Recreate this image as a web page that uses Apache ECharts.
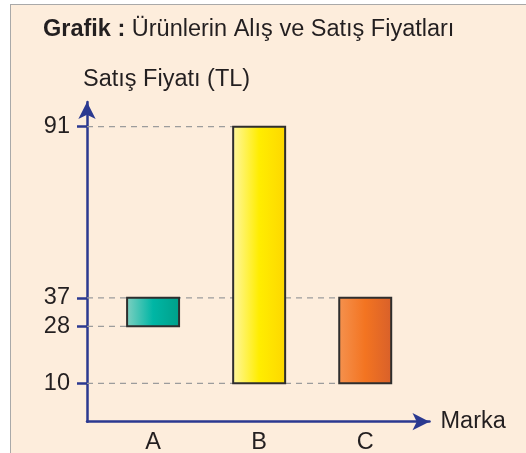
<!DOCTYPE html>
<html>
<head>
<meta charset="utf-8">
<script src="https://cdn.jsdelivr.net/npm/echarts@6/dist/echarts.min.js"></script>
<style>
  html, body { margin: 0; padding: 0; background: #ffffff; }
  #bg { position: absolute; left: 10px; top: 4px; width: 530px; height: 460px;
        background: #fdeddc; border-left: 1.5px solid #a9a9a9; border-top: 1.5px solid #a9a9a9; }
  #chart { position: absolute; left: 0; top: 0; width: 526px; height: 453px; }
</style>
</head>
<body>
<div id="bg"></div>
<div id="chart"></div>
<script>
// ---- data ----
const categories = ['A', 'B', 'C'];
const categoryPositions = [1, 2, 3];
const buyPrices = [28, 10, 10];     // bar bottoms
const sellPrices = [37, 91, 37];    // bar tops
const yTickValues = [10, 28, 37, 91];
const guideValues = [91, 37, 28, 10];
const guideEndCategory = ['B', 'C', 'A', 'C'];

const titleBold = 'Grafik :';
const titleText = 'Ürünlerin Alış ve Satış Fiyatları';
const yAxisName = 'Satış Fiyatı (TL)';
const xAxisName = 'Marka';

// ---- styling ----
const FONT = '"Liberation Sans", Arial, Helvetica, sans-serif';
const FS = 23.5;
const TEXT = '#231f20';
const AXIS = '#2b3990';
const X_MIN = 0.377, X_MAX = 3.606;
const Y_MIN = -2.1, Y_MAX = 98.8;
const BAR_W = 0.49;
const gradients = [
  ['#80d0c1', '#00b6a5', '#009f89'],
  ['#fff7a3', '#ffed00', '#fdd700'],
  ['#f5924f', '#f37421', '#d8602a']
];

const barData = categories.map((c, i) => [categoryPositions[i], buyPrices[i], sellPrices[i], i]);
const guideData = guideValues.map((v, i) => [categoryPositions[categories.indexOf(guideEndCategory[i])], v]);

const chart = echarts.init(document.getElementById('chart'), null, { renderer: 'canvas' });
chart.setOption({
  backgroundColor: 'transparent',
  animation: false,
  textStyle: { fontFamily: FONT },
  title: {
    text: '{b|' + titleBold + '} ' + titleText,
    left: 43, top: 18, padding: 0,
    textStyle: {
      fontFamily: FONT, fontSize: FS, fontWeight: 'normal', color: TEXT,
      rich: { b: { fontFamily: FONT, fontSize: FS, fontWeight: 'bold', color: TEXT } }
    }
  },
  grid: { left: 87, right: 96.5, top: 102, bottom: 31.3, containLabel: false, outerBoundsMode: 'none' },
  xAxis: {
    type: 'value', min: X_MIN, max: X_MAX,
    name: xAxisName, nameLocation: 'end', nameGap: 11,
    nameTextStyle: { fontFamily: FONT, fontSize: FS, color: TEXT },
    axisLine: { show: true, onZero: false, symbol: ['none', 'arrow'], symbolSize: [13, 17],
      lineStyle: { color: AXIS, width: 2.5 } },
    axisTick: { show: false },
    splitLine: { show: false },
    axisLabel: {
      customValues: categoryPositions, margin: 9,
      fontFamily: FONT, fontSize: FS, color: TEXT,
      formatter: v => categories[categoryPositions.indexOf(v)] || ''
    }
  },
  yAxis: {
    type: 'value', min: Y_MIN, max: Y_MAX,
    name: yAxisName, nameLocation: 'end', nameGap: 10,
    nameTextStyle: { fontFamily: FONT, fontSize: FS, color: TEXT, align: 'left', padding: [0, 0, 0, -4] },
    axisLine: { show: true, onZero: false, symbol: ['none', 'arrow'], symbolSize: [13, 17],
      lineStyle: { color: AXIS, width: 2.5 } },
    axisTick: { show: true, customValues: yTickValues, length: 10, lineStyle: { color: AXIS, width: 2.5 } },
    splitLine: { show: false },
    axisLabel: { customValues: yTickValues, margin: 17, fontFamily: FONT, fontSize: FS, color: TEXT }
  },
  series: [
    {
      type: 'custom', name: 'guides', z: 1, silent: true, clip: false,
      data: guideData,
      encode: { x: 0, y: 1 },
      renderItem: (params, api) => {
        const v = api.value(1);
        const s = api.coord([X_MIN, v]);
        const e = api.coord([api.value(0), v]);
        return { type: 'line', shape: { x1: s[0], y1: s[1], x2: e[0], y2: e[1] },
          style: { stroke: '#9c9c9c', lineWidth: 1.3, lineDash: [6, 5] } };
      }
    },
    {
      type: 'custom', name: 'bars', z: 3, clip: false,
      data: barData,
      encode: { x: 0, y: [1, 2] },
      renderItem: (params, api) => {
        const x = api.value(0), lo = api.value(1), hi = api.value(2), idx = api.value(3);
        const top = api.coord([x, hi]);
        const bot = api.coord([x, lo]);
        const w = api.size([BAR_W, 0])[0];
        const g = gradients[idx];
        return { type: 'rect',
          shape: { x: top[0] - w / 2, y: top[1], width: w, height: bot[1] - top[1] },
          style: { fill: new echarts.graphic.LinearGradient(0, 0, 1, 0, [
              { offset: 0, color: g[0] }, { offset: 0.5, color: g[1] }, { offset: 1, color: g[2] }]),
            stroke: '#2e2e2e', lineWidth: 2 } };
      }
    }
  ]
});
</script>
</body>
</html>
